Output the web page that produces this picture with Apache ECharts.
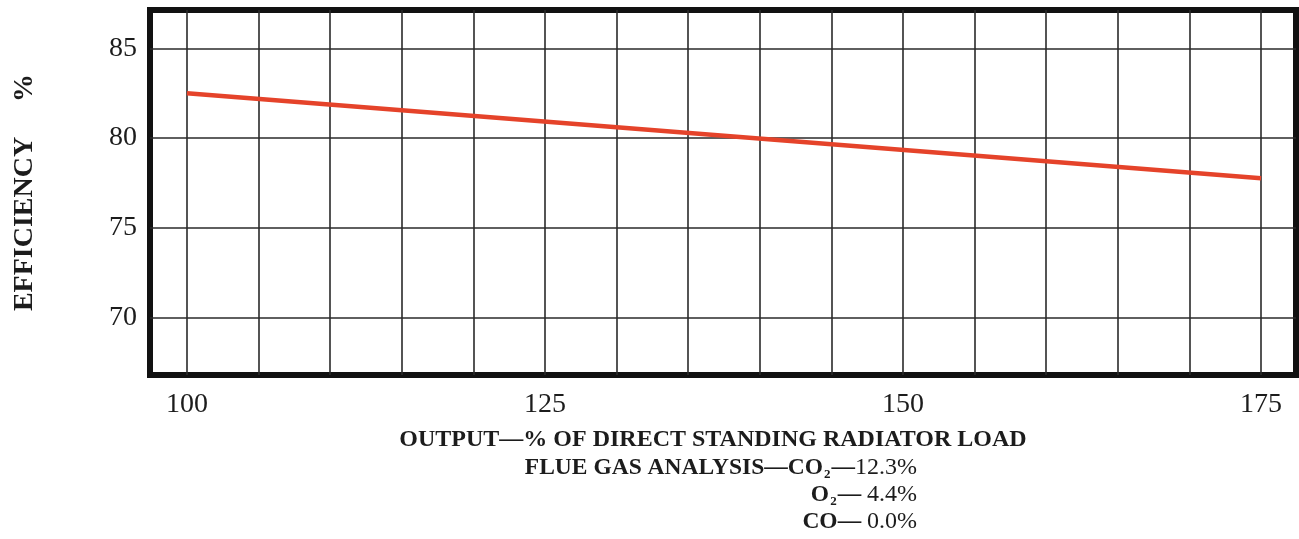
<!DOCTYPE html>
<html>
<head>
<meta charset="utf-8">
<script src="https://cdn.jsdelivr.net/npm/echarts@6/dist/echarts.min.js"></script>
<style>
  html, body { margin: 0; padding: 0; background: #ffffff; }
  #chart { width: 1299px; height: 539px; }
</style>
</head>
<body>
<div id="chart"></div>
<script>
// Boiler efficiency against output (% of direct standing radiator load)
const outputPct = [100, 175];
const efficiencyPct = [82.5, 77.75];

// Grid rulings and labelled ticks
const xGridValues = [100, 105, 110, 115, 120, 125, 130, 135, 140, 145, 150, 155, 160, 165, 170, 175];
const xLabelValues = [100, 125, 150, 175];
const yGridValues = [70, 75, 80, 85];

// Titles and notes
const yTitle = 'EFFICIENCY     %';
const xTitle = 'OUTPUT—% OF DIRECT STANDING RADIATOR LOAD';
// [label, subscript, dash, value]
const flueGasRows = [
  ['FLUE GAS ANALYSIS—CO', '2', '—', '12.3%'],
  ['O', '2', '— ', '4.4%'],
  ['CO', '', '— ', '0.0%']
];

const serif = '"Liberation Serif", "DejaVu Serif", serif';
const ink = '#1c1c1c';

const seriesData = outputPct.map((x, i) => [x, efficiencyPct[i]]);

const richStyles = {
  b: { fontFamily: serif, fontWeight: 'bold', fontSize: 23.5, fill: ink, color: ink, lineHeight: 26 },
  s: { fontFamily: serif, fontWeight: 'bold', fontSize: 13, fill: ink, color: ink, lineHeight: 26, verticalAlign: 'bottom', padding: [0, 1, 0, 1] },
  n: { fontFamily: serif, fontWeight: 'normal', fontSize: 24, fill: ink, color: ink, lineHeight: 26 }
};

const rowY = [468, 495, 522];
const flueGraphics = flueGasRows.map((r, i) => ({
  type: 'text',
  x: 917,
  y: rowY[i],
  silent: true,
  style: {
    text: '{b|' + r[0] + '}' + (r[1] ? '{s|' + r[1] + '}' : '') + '{b|' + r[2] + '}{n|' + r[3] + '}',
    rich: richStyles,
    align: 'right',
    verticalAlign: 'middle'
  }
}));

const chart = echarts.init(document.getElementById('chart'), null, { renderer: 'canvas' });

chart.setOption({
  backgroundColor: '#ffffff',
  animation: false,
  grid: {
    left: 150, right: 3, top: 10, bottom: 164,
    show: true,
    borderColor: '#111111',
    borderWidth: 6,
    backgroundColor: 'transparent',
    containLabel: false,
    outerBoundsMode: 'none'
  },
  xAxis: {
    type: 'value',
    min: 97.42,
    max: 177.44,
    axisLine: { show: false },
    axisTick: { show: false, customValues: xGridValues },
    splitLine: { show: true, lineStyle: { color: '#2a2a2a', width: 1.6 } },
    axisLabel: {
      customValues: xLabelValues,
      margin: 16,
      fontFamily: serif,
      fontSize: 28,
      color: ink
    }
  },
  yAxis: {
    type: 'value',
    min: 66.78,
    max: 87.14,
    name: yTitle,
    nameLocation: 'middle',
    nameGap: 111,
    nameRotate: 90,
    nameTextStyle: { fontFamily: serif, fontWeight: 'bold', fontSize: 28, color: ink },
    axisLine: { show: false },
    axisTick: { show: false, customValues: yGridValues },
    splitLine: { show: true, lineStyle: { color: '#2a2a2a', width: 1.6 } },
    axisLabel: {
      customValues: yGridValues,
      margin: 13,
      fontFamily: serif,
      fontSize: 28,
      color: ink
    }
  },
  graphic: [
    {
      type: 'text',
      x: 713,
      y: 440,
      silent: true,
      style: {
        text: xTitle,
        font: 'bold 24px ' + serif,
        fill: ink,
        align: 'center',
        verticalAlign: 'middle'
      }
    }
  ].concat(flueGraphics),
  series: [
    {
      type: 'line',
      data: seriesData,
      showSymbol: false,
      symbol: 'none',
      silent: true,
      z: 5,
      lineStyle: { color: '#e5432a', width: 4.5 }
    }
  ]
});
</script>
</body>
</html>
